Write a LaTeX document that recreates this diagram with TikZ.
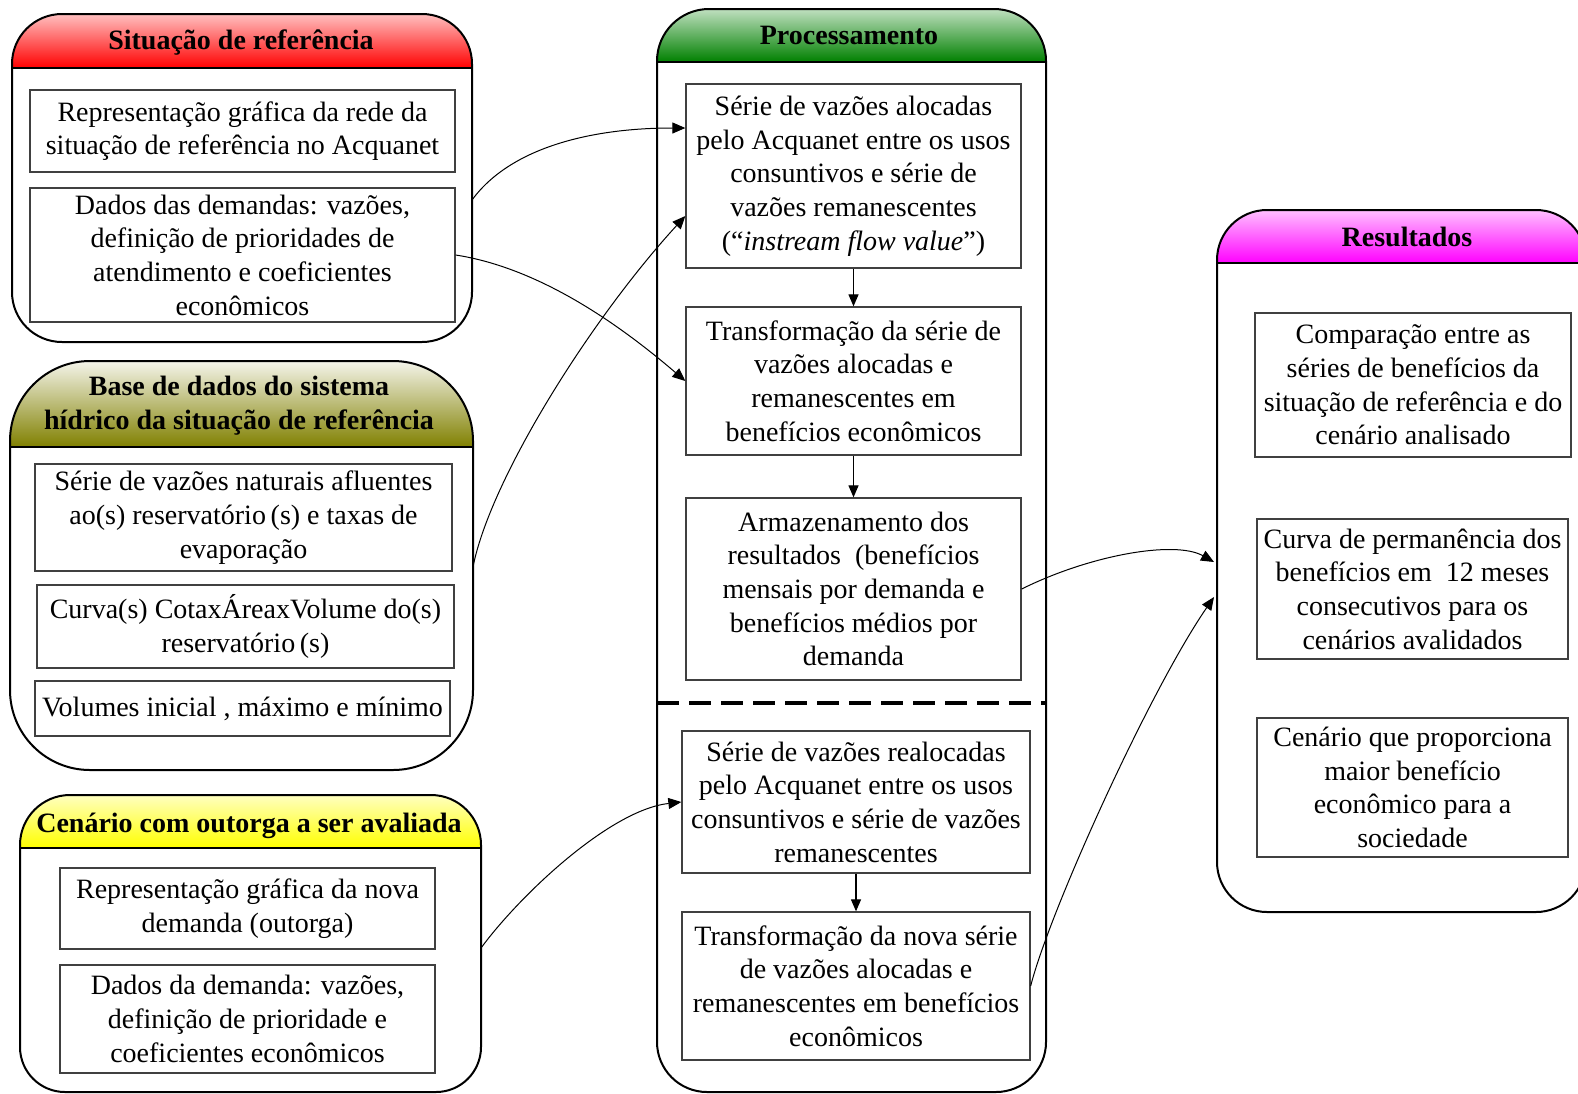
\documentclass[tikz,border=0pt]{standalone}
\usepackage{fontspec}
\setmainfont{Liberation Serif}
\usetikzlibrary{arrows.meta}
\definecolor{grn}{RGB}{0,128,0}
\definecolor{oliv}{RGB}{128,128,0}
\newcommand\myfont{\fontsize{14}{16.85}\selectfont}
\tikzset{
  inbox/.style={draw=black!75, line width=0.65pt, align=center, inner sep=1pt, font=\myfont},
  hdr/.style={align=center, inner sep=0pt, font=\myfont\bfseries},
  cont/.style={draw=black, line width=1pt},
  hdrline/.style={draw=black, line width=1pt},
  conn/.style={line width=0.5pt, -{Triangle[length=6.5pt,width=5.5pt]}},
  flow/.style={line width=0.6pt, -{Triangle[length=6pt,width=5pt]}},
  sepline/.style={line width=2pt, dash pattern=on 11pt off 5pt},
}
% container outlines (units: x=0.5pt, y=-0.5pt; radii given as dimensions)
\def\pSit{(12,64) arc[start angle=180,end angle=90,radius=25pt] -- (422,14) arc[start angle=90,end angle=0,radius=25pt] -- (472,292) arc[start angle=0,end angle=-90,radius=25pt] -- (62,342) arc[start angle=-90,end angle=-180,radius=25pt] -- cycle}
\def\pBase{(10,441) arc[start angle=180,end angle=90,radius=40pt] -- (393,361) arc[start angle=90,end angle=0,radius=40pt] -- (473,690) arc[start angle=0,end angle=-90,radius=40pt] -- (90,770) arc[start angle=-90,end angle=-180,radius=40pt] -- cycle}
\def\pCen{(20,845) arc[start angle=180,end angle=90,radius=25pt] -- (431,795) arc[start angle=90,end angle=0,radius=25pt] -- (481,1047) arc[start angle=0,end angle=-90,radius=22.5pt] -- (65,1092) arc[start angle=-90,end angle=-180,radius=22.5pt] -- cycle}
\def\pProc{(657,61) arc[start angle=180,end angle=90,radius=26pt] -- (994,9) arc[start angle=90,end angle=0,radius=26pt] -- (1046,1042) arc[start angle=0,end angle=-90,radius=25pt] -- (707,1092) arc[start angle=-90,end angle=-180,radius=25pt] -- cycle}
\def\pRes{(1217,260) arc[start angle=180,end angle=90,radius=25pt] -- (1536,210) arc[start angle=90,end angle=0,radius=25pt] -- (1586,862) arc[start angle=0,end angle=-90,radius=25pt] -- (1267,912) arc[start angle=-90,end angle=-180,radius=25pt] -- cycle}
\begin{document}
\begin{tikzpicture}[x=0.5pt,y=-0.5pt]
\clip (0,0) rectangle (1578,1093);
\fill[white] (0,0) rectangle (1578,1093);

% ---------- Situacao de referencia ----------
\begin{scope}
\clip \pSit;
\shade[top color=red!22, bottom color=red] (10,12) rectangle (474,68);
\end{scope}
\draw[hdrline] (12,68) -- (472,68);
\draw[cont] \pSit;
\node[hdr] (t1) at (241,43) {Situação de referência};

% ---------- Base de dados ----------
\begin{scope}
\clip \pBase;
\shade[top color=oliv!6, bottom color=oliv] (8,359) rectangle (475,447);
\end{scope}
\draw[hdrline] (10,447) -- (473,447);
\draw[cont] \pBase;
\node[hdr] (t2) at (239,405.5) {Base de dados do sistema\\hídrico da situação de referência};

% ---------- Cenario com outorga ----------
\begin{scope}
\clip \pCen;
\shade[top color=yellow!22, bottom color=yellow] (18,793) rectangle (483,848);
\end{scope}
\draw[hdrline] (20,848) -- (481,848);
\draw[cont] \pCen;
\node[hdr] (t3) at (249,826) {Cenário com outorga a ser avaliada};

% ---------- Processamento ----------
\begin{scope}
\clip \pProc;
\shade[top color=grn!22, bottom color=grn] (655,7) rectangle (1048,62);
\end{scope}
\draw[hdrline] (657,62) -- (1046,62);
\draw[cont] \pProc;
\node[hdr] (t4) at (849,35) {Processamento};

% ---------- Resultados ----------
\begin{scope}
\clip \pRes;
\shade[top color=magenta!22, bottom color=magenta] (1215,208) rectangle (1588,263);
\end{scope}
\draw[hdrline] (1217,263) -- (1586,263);
\draw[cont] \pRes;
\node[hdr] (t5) at (1407,237) {Resultados};

% ---------- inner boxes ----------
\node[inbox, minimum width=212.5pt, minimum height=41pt] (a) at (242.5,131) {Representação gráfica da rede da\\situação de referência no Acquanet};
\node[inbox, minimum width=212.5pt, minimum height=67pt] (b) at (242.5,255) {Dados das demandas: vazões,\\definição de prioridades de\\atendimento e coeficientes\\econômicos};
\node[inbox, minimum width=208.5pt, minimum height=53.5pt] (c) at (243.5,517.5) {Série de vazões naturais afluentes\\ao(s) reservatório\,(s) e taxas de\\evaporação};
\node[inbox, minimum width=208.5pt, minimum height=41.5pt] (d) at (245.5,626.5) {Curva(s) CotaxÁreaxVolume do(s)\\reservatório\,(s)};
\node[inbox, minimum width=207.5pt, minimum height=27.5pt] (e) at (242.5,708.5) {Volumes inicial , máximo e mínimo};
\node[inbox, minimum width=187.5pt, minimum height=40.5pt] (f) at (247.5,908.5) {Representação gráfica da nova\\demanda (outorga)};
\node[inbox, minimum width=187.5pt, minimum height=54pt] (g) at (247.5,1019) {Dados da demanda: vazões,\\definição de prioridade e\\coeficientes econômicos};

\node[inbox, minimum width=167.5pt, minimum height=92pt] (h) at (853.5,176) {Série de vazões alocadas\\pelo Acquanet entre os usos\\consuntivos e série de\\vazões remanescentes\\(“\textit{instream flow value}”)};
\node[inbox, minimum width=167.5pt, minimum height=74pt] (i) at (853.5,381) {Transformação da série de\\vazões alocadas e\\remanescentes em\\benefícios econômicos};
\node[inbox, minimum width=167.5pt, minimum height=91pt] (j) at (853.5,589) {Armazenamento dos\\resultados~ (benefícios\\mensais por demanda e\\benefícios médios por\\demanda};
\node[inbox, minimum width=174pt, minimum height=71pt] (k) at (856,802) {Série de vazões realocadas\\pelo Acquanet entre os usos\\consuntivos e série de vazões\\remanescentes};
\node[inbox, minimum width=174pt, minimum height=74pt] (l) at (856,986) {Transformação da nova série\\de vazões alocadas e\\remanescentes em benefícios\\econômicos};

\node[inbox, minimum width=158pt, minimum height=72pt] (m) at (1413,385) {Comparação entre as\\séries de benefícios da\\situação de referência e do\\cenário analisado};
\node[inbox, minimum width=155.5pt, minimum height=70pt] (n) at (1412.5,589) {Curva de permanência dos\\benefícios em~ 12 meses\\consecutivos para os\\cenários avalidados};
\node[inbox, minimum width=155.5pt, minimum height=69.5pt] (o) at (1412.5,787.5) {Cenário que proporciona\\maior benefício\\econômico para a\\sociedade};

% ---------- separator ----------
\coordinate (sepL) at (657,703);
\coordinate (sepR) at (1045,703);
\draw[sepline] (sepL) -- (sepR);

% ---------- vertical flow arrows ----------
\draw[flow] (h) -- (i);
\draw[flow] (i) -- (j);
\draw[flow] (k) -- (l);

% ---------- curved connectors ----------
\coordinate (p1) at (472,200);
\coordinate (p3) at (473,567);
\coordinate (p4) at (481,948);
\coordinate (r1) at (1214,562);
\coordinate (r2) at (1214,597);
\draw[conn] (p1) .. controls (510,148) and (590,128) .. ([yshift=24pt]h.west);
\draw[conn] (b.east) .. controls (540,268) and (620,325) .. (i.west);
\draw[conn] (p3) .. controls (490,480) and (590,320) .. ([yshift=-20pt]h.west);
\draw[conn] (p4) .. controls (520,895) and (610,810) .. (k.west);
\draw[conn] (j.east) .. controls (1090,555) and (1175,540) .. (r1);
\draw[conn] (l.east) .. controls (1050,910) and (1150,690) .. (r2);
\end{tikzpicture}
\end{document}
